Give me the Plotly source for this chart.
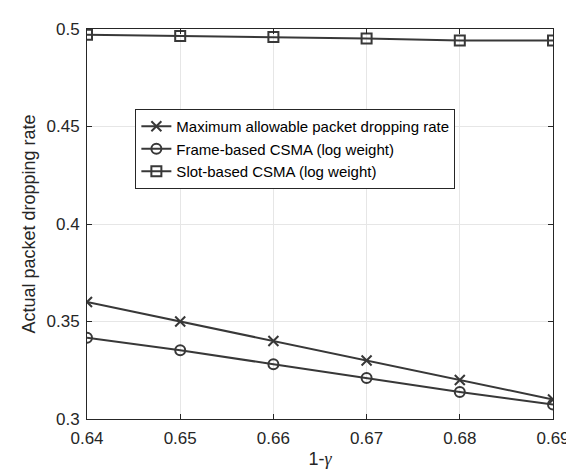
import plotly.graph_objects as go

x_vals = [0.64, 0.65, 0.66, 0.67, 0.68, 0.69]
max_allowable = [0.36, 0.35, 0.34, 0.33, 0.32, 0.31]
frame_based = [0.3417, 0.3352, 0.3281, 0.3210, 0.3138, 0.3074]
slot_based = [0.4971, 0.4964, 0.4959, 0.4951, 0.4941, 0.4941]

names = ["Maximum allowable packet dropping rate",
         "Frame-based CSMA (log weight)",
         "Slot-based CSMA (log weight)"]
x_ticks = [0.64, 0.65, 0.66, 0.67, 0.68, 0.69]
x_tick_labels = ["0.64", "0.65", "0.66", "0.67", "0.68", "0.69"]
y_ticks = [0.3, 0.35, 0.4, 0.45, 0.5]
y_tick_labels = ["0.3", "0.35", "0.4", "0.45", "0.5"]

line_color = "#383838"
fig = go.Figure()
for name, ys, sym in [(names[0], max_allowable, "x-thin-open"),
                      (names[1], frame_based, "circle-open"),
                      (names[2], slot_based, "square-open")]:
    fig.add_trace(go.Scatter(
        x=x_vals, y=ys, name=name, mode="lines+markers",
        line=dict(color=line_color, width=2),
        marker=dict(symbol=sym, size=10, color=line_color,
                    line=dict(color=line_color, width=2)),
    ))

FONT = "Liberation Sans, Arial, Helvetica, sans-serif"
axis_common = dict(
    showline=True, linecolor="#262626", linewidth=1, mirror="ticks",
    ticks="inside", ticklen=5, tickcolor="#262626",
    showgrid=True, gridcolor="#e6e6e6", gridwidth=1,
    zeroline=False,
    tickfont=dict(family=FONT, size=17, color="#262626"),
)

fig.update_layout(
    width=574, height=471,
    margin=dict(l=79, r=23, t=16, b=60),
    paper_bgcolor="white", plot_bgcolor="white",
    font=dict(family=FONT, color="#262626"),
    xaxis=dict(range=[0.64, 0.69], tickvals=x_ticks, ticktext=x_tick_labels,
               ticklabelstandoff=4,
               title=dict(text="1-<span style='font-family:Liberation Serif;font-style:italic'>γ</span>",
                          font=dict(size=18), standoff=4),
               **axis_common),
    yaxis=dict(range=[0.3, 0.5], tickvals=y_ticks, ticktext=y_tick_labels,
               ticklabelstandoff=3,
               title=dict(text="Actual packet dropping rate", font=dict(size=18), standoff=6),
               **axis_common),
    legend=dict(x=0.1038, y=0.795, xanchor="left", yanchor="top",
                bgcolor="white", bordercolor="#262626", borderwidth=1,
                font=dict(family=FONT, size=15, color="#000000"), itemwidth=30),
    showlegend=True,
)

fig.write_html("out.html")
